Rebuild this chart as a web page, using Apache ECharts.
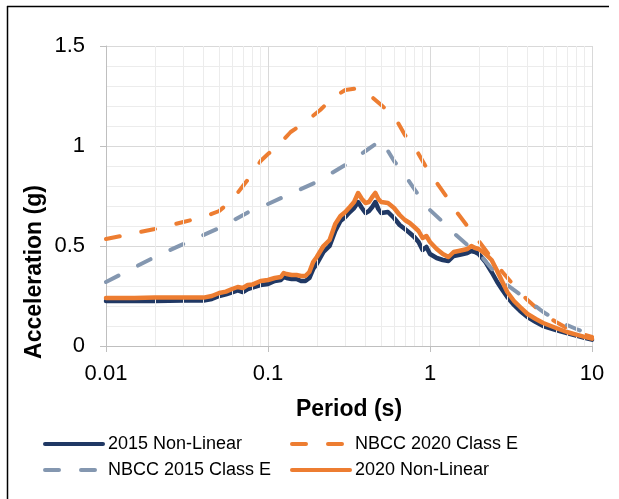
<!DOCTYPE html>
<html>
<head>
<meta charset="utf-8">
<script src="https://cdn.jsdelivr.net/npm/echarts@6/dist/echarts.min.js"></script>
<style>
  html, body { margin: 0; padding: 0; background: #fff; }
  #chart { width: 619px; height: 499px; }
</style>
</head>
<body>
<div id="chart"></div>
<script>
// Response spectra: periods (s) and spectral accelerations (g)
const periodsNL = [0.01, 0.015, 0.02, 0.03, 0.04, 0.045, 0.05, 0.055, 0.06, 0.065, 0.07, 0.075, 0.08, 0.09, 0.1,
  0.11, 0.12, 0.125, 0.13, 0.14, 0.15, 0.16, 0.17, 0.18, 0.19, 0.2, 0.22, 0.24, 0.26, 0.28, 0.3, 0.32, 0.34, 0.36,
  0.38, 0.4, 0.42, 0.44, 0.46, 0.48, 0.5, 0.55, 0.6, 0.65, 0.7, 0.75, 0.8, 0.85, 0.9, 0.95, 1.0, 1.1, 1.2, 1.3,
  1.4, 1.5, 1.6, 1.7, 1.8, 1.9, 2.0, 2.2, 2.4, 2.6, 2.8, 3.0, 3.3, 3.6, 4.0, 4.5, 5.0, 6.0, 7.0, 8.0, 9.0, 10.0];

const nl2015 = [0.225, 0.225, 0.225, 0.228, 0.227, 0.235, 0.25, 0.258, 0.268, 0.278, 0.27, 0.285, 0.292, 0.305, 0.31,
  0.325, 0.33, 0.345, 0.34, 0.335, 0.335, 0.325, 0.325, 0.34, 0.385, 0.41, 0.47, 0.5, 0.575, 0.625, 0.645, 0.67, 0.69, 0.72,
  0.69, 0.665, 0.675, 0.695, 0.72, 0.685, 0.665, 0.67, 0.64, 0.605, 0.585, 0.565, 0.545, 0.52, 0.48, 0.495, 0.46, 0.44, 0.43, 0.425,
  0.45, 0.455, 0.46, 0.465, 0.475, 0.47, 0.46, 0.42, 0.37, 0.32, 0.28, 0.245, 0.205, 0.175, 0.145, 0.12, 0.1, 0.08, 0.065, 0.052, 0.041, 0.032];

const nl2020 = [0.24, 0.24, 0.242, 0.243, 0.242, 0.25, 0.265, 0.272, 0.285, 0.295, 0.29, 0.305, 0.307, 0.325, 0.33,
  0.34, 0.345, 0.365, 0.36, 0.355, 0.355, 0.35, 0.35, 0.37, 0.42, 0.445, 0.5, 0.53, 0.61, 0.65, 0.67, 0.695, 0.72, 0.765,
  0.735, 0.715, 0.72, 0.745, 0.765, 0.735, 0.72, 0.715, 0.69, 0.655, 0.63, 0.615, 0.595, 0.575, 0.54, 0.55, 0.52, 0.485, 0.46, 0.445,
  0.47, 0.475, 0.48, 0.485, 0.5, 0.49, 0.485, 0.46, 0.43, 0.375, 0.32, 0.27, 0.225, 0.195, 0.16, 0.135, 0.115, 0.09, 0.07, 0.057, 0.046, 0.037];

const periodsCode2015 = [0.01, 0.02, 0.03, 0.05, 0.08, 0.1, 0.15, 0.2, 0.3, 0.4, 0.5, 0.6, 0.7, 0.8, 0.9, 1.0,
  1.2, 1.4, 1.7, 2.0, 2.5, 3.0, 4.0, 5.0, 6.0, 7.0, 8.0, 10.0];
const code2015 = [0.32, 0.445, 0.51, 0.59, 0.68, 0.71, 0.775, 0.82, 0.905, 0.975, 1.03, 0.925, 0.855, 0.785, 0.725, 0.68,
  0.62, 0.565, 0.505, 0.465, 0.37, 0.305, 0.23, 0.17, 0.13, 0.105, 0.085, 0.055];

const periodsCode2020 = [0.01, 0.02, 0.03, 0.04, 0.05, 0.06, 0.07, 0.08, 0.09, 0.1, 0.113, 0.138, 0.17, 0.21, 0.25, 0.3,
  0.35, 0.41, 0.5, 0.61, 0.7, 0.81, 0.93, 1.07, 1.27, 1.46, 1.7, 2.0, 2.4, 2.8, 3.4, 4.0, 5.0, 6.0, 7.0, 8.0, 10.0];
const code2020 = [0.535, 0.585, 0.62, 0.645, 0.675, 0.73, 0.8, 0.86, 0.925, 0.96, 0.995, 1.07, 1.12, 1.18, 1.24, 1.28,
  1.288, 1.265, 1.205, 1.14, 1.055, 0.99, 0.905, 0.83, 0.745, 0.67, 0.6, 0.525, 0.44, 0.37, 0.29, 0.23, 0.16, 0.12, 0.09, 0.07, 0.045];

// Intermediate decade lines on the log period axis
const minorPeriods = [0.02, 0.03, 0.04, 0.05, 0.06, 0.07, 0.08, 0.09,
  0.2, 0.3, 0.4, 0.5, 0.6, 0.7, 0.8, 0.9,
  2, 3, 4, 5, 6, 7, 8, 9];

const seriesNames = ['2015 Non-Linear', 'NBCC 2020 Class E', 'NBCC 2015 Class E', '2020 Non-Linear'];
const yTitle = 'Acceleration (g)';
const xTitle = 'Period (s)';

const NAVY = '#203864';
const ORANGE = '#ED7D31';
const SLATE = '#8497B0';
const FONT = '"Liberation Sans", Arial, sans-serif';

const zip = (xs, ys) => xs.map((x, i) => [x, ys[i]]);

const chart = echarts.init(document.getElementById('chart'), null, { renderer: 'canvas' });

const lineSeries = (name, data, color, dashed, z) => ({
  name,
  type: 'line',
  data,
  z,
  symbol: 'none',
  showSymbol: false,
  smooth: false,
  silent: true,
  lineStyle: dashed
    ? { color, width: 4, type: [14, 22], cap: 'round', join: 'round' }
    : { color, width: 4.5, type: 'solid', cap: 'round', join: 'round' },
  itemStyle: { color }
});

const legendBase = {
  orient: 'vertical',
  top: 435,
  padding: 0,
  itemWidth: 58,
  itemHeight: 20,
  itemGap: 8,
  selectedMode: false,
  itemStyle: { opacity: 0 },
  lineStyle: { width: 4 },
  textStyle: { fontSize: 18, fontFamily: FONT, color: '#000' }
};

chart.setOption({
  animation: false,
  backgroundColor: '#fff',
  grid: { left: 106, right: 27, top: 46, bottom: 153, containLabel: false },
  xAxis: {
    type: 'log',
    logBase: 10,
    min: 0.01,
    max: 10,
    name: xTitle,
    nameLocation: 'middle',
    nameGap: 52,
    nameTextStyle: { fontSize: 23, fontWeight: 'bold', fontFamily: FONT, color: '#000' },
    axisLine: { show: true, lineStyle: { color: '#BFBFBF', width: 1 } },
    axisTick: { show: true, length: 6, lineStyle: { color: '#BFBFBF' } },
    axisLabel: {
      margin: 17,
      fontSize: 22,
      fontFamily: FONT,
      color: '#000',
      formatter: v => String(parseFloat(Number(v).toPrecision(6)))
    },
    splitLine: { show: true, lineStyle: { color: '#D9D9D9', width: 1 } }
  },
  yAxis: {
    type: 'value',
    min: 0,
    max: 1.5,
    interval: 0.5,
    axisLine: { show: true, lineStyle: { color: '#BFBFBF', width: 1 } },
    axisTick: { show: true, length: 6, lineStyle: { color: '#BFBFBF' } },
    axisLabel: { margin: 21, fontSize: 22, fontFamily: FONT, color: '#000' },
    splitLine: { show: true, lineStyle: { color: '#D9D9D9', width: 1 } },
    minorTick: { show: false, splitNumber: 5 },
    minorSplitLine: { show: true, lineStyle: { color: '#ECECEC', width: 1 } }
  },
  legend: [
    Object.assign({}, legendBase, { left: 43, data: [seriesNames[0], seriesNames[2]] }),
    Object.assign({}, legendBase, { left: 290, data: [seriesNames[1], seriesNames[3]] })
  ],
  graphic: [
    { type: 'line', shape: { x1: 7, y1: 6.5, x2: 609, y2: 6.5 }, style: { stroke: '#000', lineWidth: 1.5 }, silent: true },
    { type: 'line', shape: { x1: 7.5, y1: 6, x2: 7.5, y2: 499 }, style: { stroke: '#000', lineWidth: 1.5 }, silent: true },
    {
      type: 'text',
      x: 35,
      y: 272,
      rotation: Math.PI / 2,
      silent: true,
      style: {
        text: yTitle,
        fontSize: 23,
        fontWeight: 'bold',
        fontFamily: FONT,
        fill: '#000',
        align: 'center',
        verticalAlign: 'middle'
      }
    }
  ],
  series: [
    {
      name: 'minor-grid',
      type: 'line',
      data: [],
      z: 0,
      silent: true,
      markLine: {
        silent: true,
        symbol: ['none', 'none'],
        label: { show: false },
        lineStyle: { color: '#ECECEC', width: 1, type: 'solid' },
        emphasis: { disabled: true },
        animation: false,
        data: minorPeriods.map(p => ({ xAxis: p }))
      }
    },
    lineSeries(seriesNames[0], zip(periodsNL, nl2015), NAVY, false, 2),
    lineSeries(seriesNames[1], zip(periodsCode2020, code2020), ORANGE, true, 3),
    lineSeries(seriesNames[2], zip(periodsCode2015, code2015), SLATE, true, 4),
    lineSeries(seriesNames[3], zip(periodsNL, nl2020), ORANGE, false, 5)
  ]
});
</script>
</body>
</html>
